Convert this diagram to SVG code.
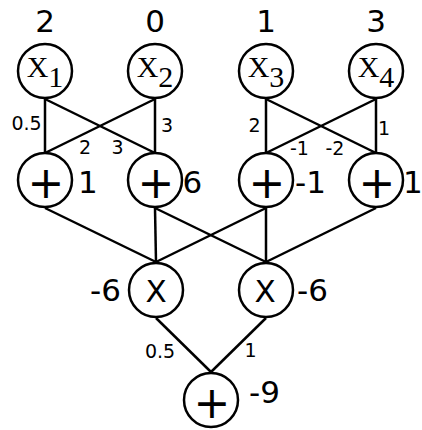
<svg xmlns="http://www.w3.org/2000/svg" width="422" height="430" viewBox="0 0 422 430">
<style>
.node circle{fill:#fff;stroke:#000;stroke-width:2.5}
.edges line{stroke:#000;stroke-width:2.5}
.var{font-family:"Liberation Serif","Times New Roman",serif;font-size:30px;text-anchor:middle}
.op{font-family:"DejaVu Sans",sans-serif;text-anchor:middle}
.plus{font-size:44px}
.mul{font-size:31px}
.val{font-family:"DejaVu Sans",sans-serif;font-size:31px}
.w{font-family:"DejaVu Sans",sans-serif;font-size:19px;text-anchor:middle}
</style>
<rect width="422" height="430" fill="#fff"/>
<g id="edges" class="edges">
<line x1="45" y1="99" x2="45" y2="153"/>
<line x1="45" y1="99" x2="155" y2="153"/>
<line x1="155" y1="99" x2="45" y2="153"/>
<line x1="155" y1="99" x2="155" y2="153"/>
<line x1="266" y1="99" x2="266" y2="153"/>
<line x1="266" y1="99" x2="376" y2="153"/>
<line x1="376" y1="99" x2="266" y2="153"/>
<line x1="376" y1="99" x2="376" y2="153"/>
<line x1="45" y1="208" x2="156" y2="262"/>
<line x1="155" y1="208" x2="156" y2="262"/>
<line x1="155" y1="208" x2="266" y2="262"/>
<line x1="266" y1="208" x2="156" y2="262"/>
<line x1="266" y1="208" x2="266" y2="262"/>
<line x1="376" y1="208" x2="266" y2="262"/>
<line x1="156" y1="318" x2="211" y2="372"/>
<line x1="266" y1="318" x2="211" y2="372"/>
</g>
<g id="edge-labels">
<text class="w" x="26.5" y="130">0.5</text>
<text class="w" x="167" y="132">3</text>
<text class="w" x="85" y="154">2</text>
<text class="w" x="117.5" y="154">3</text>
<text class="w" x="254.5" y="132">2</text>
<text class="w" x="384" y="135">1</text>
<text class="w" x="299.5" y="155">-1</text>
<text class="w" x="335" y="155">-2</text>
<text class="w" x="160" y="358">0.5</text>
<text class="w" x="250.5" y="357">1</text>
</g>
<g id="x1" class="node"><circle cx="45" cy="71" r="27"/><text class="var" x="45" y="77">X<tspan dy="10">1</tspan></text><text class="val" x="45" y="32" text-anchor="middle">2</text></g>
<g id="x2" class="node"><circle cx="155" cy="71" r="27"/><text class="var" x="155" y="77">X<tspan dy="10">2</tspan></text><text class="val" x="155" y="32" text-anchor="middle">0</text></g>
<g id="x3" class="node"><circle cx="266" cy="71" r="27"/><text class="var" x="266" y="77">X<tspan dy="10">3</tspan></text><text class="val" x="266" y="32" text-anchor="middle">1</text></g>
<g id="x4" class="node"><circle cx="376" cy="71" r="27"/><text class="var" x="376" y="77">X<tspan dy="10">4</tspan></text><text class="val" x="376" y="32" text-anchor="middle">3</text></g>
<g id="p1" class="node"><circle cx="45" cy="180" r="27"/><text class="op plus" x="46" y="198">+</text><text class="val" x="78" y="193">1</text></g>
<g id="p2" class="node"><circle cx="155" cy="180" r="27"/><text class="op plus" x="156" y="198">+</text><text class="val" x="182.5" y="193">6</text></g>
<g id="p3" class="node"><circle cx="266" cy="180" r="27"/><text class="op plus" x="267" y="198">+</text><text class="val" x="295" y="193">-1</text></g>
<g id="p4" class="node"><circle cx="376" cy="180" r="27"/><text class="op plus" x="377" y="198">+</text><text class="val" x="403" y="193">1</text></g>
<g id="m1" class="node"><circle cx="156" cy="290" r="27"/><text class="op mul" x="156" y="302">X</text><text class="val" x="121" y="301" text-anchor="end">-6</text></g>
<g id="m2" class="node"><circle cx="266" cy="290" r="27"/><text class="op mul" x="265" y="302">X</text><text class="val" x="297" y="301">-6</text></g>
<g id="s" class="node"><circle cx="211" cy="400" r="27"/><text class="op plus" x="212" y="418">+</text><text class="val" x="249" y="403">-9</text></g>
</svg>
